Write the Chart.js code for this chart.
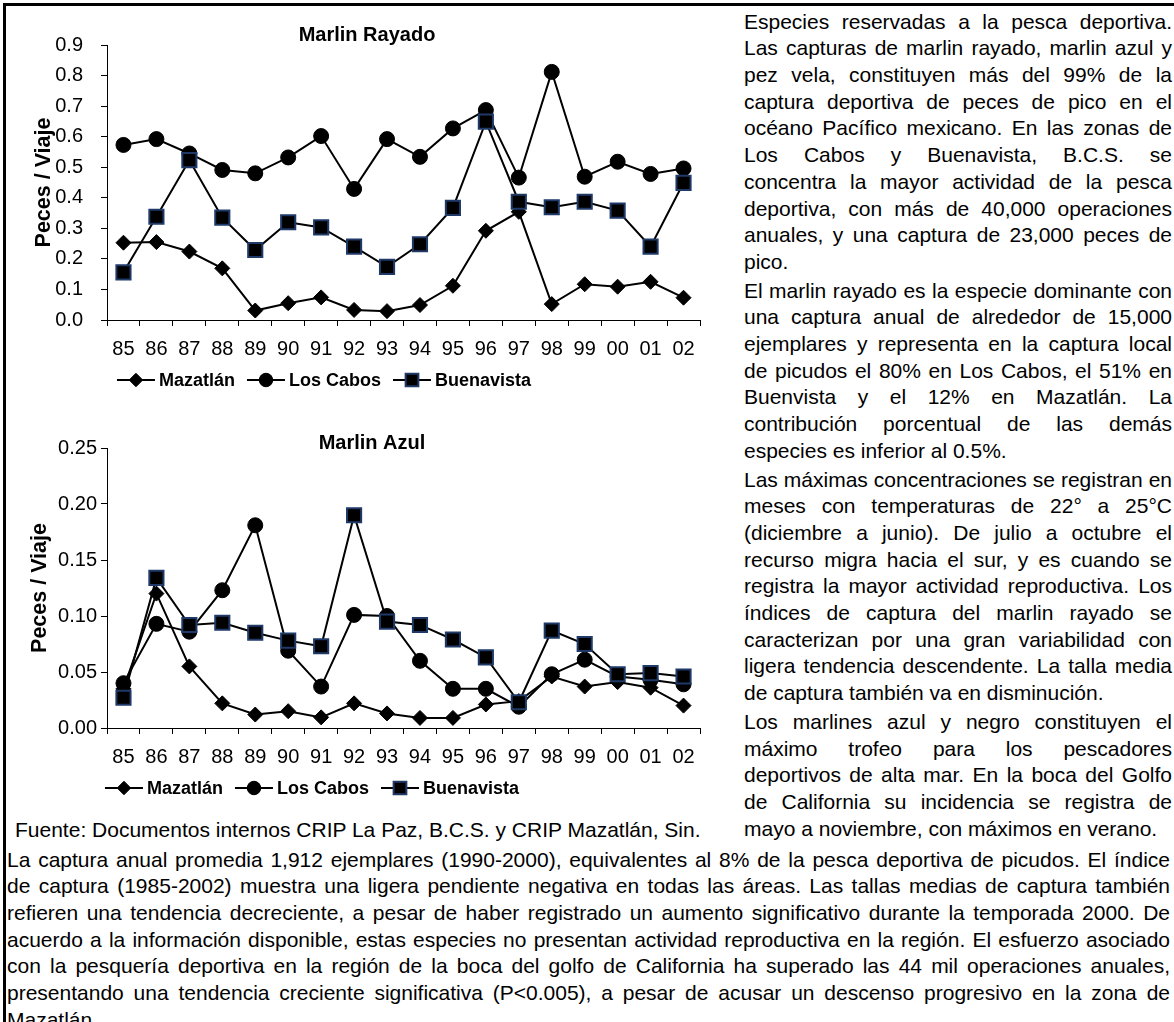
<!DOCTYPE html>
<html lang="es">
<head>
<meta charset="utf-8">
<title>Marlin Rayado / Marlin Azul</title>
<script src="https://cdn.jsdelivr.net/npm/chart.js@4.4.0/dist/chart.umd.min.js"></script>
<style>
  html, body { margin: 0; padding: 0; background: #fff; }
  body {
    width: 1174px; height: 1022px; position: relative; overflow: hidden;
    font-family: "Liberation Sans", Arial, sans-serif; color: #000;
  }
  .rule-top { position: absolute; left: 3px; top: 3px; right: 0; height: 3px; background: #000; }
  .rule-left { position: absolute; left: 3px; top: 3px; bottom: 0; width: 3px; background: #000; }
  canvas { position: absolute; left: 0; }
  #rayado { top: 0; }
  #azul { top: 400px; }
  .col { position: absolute; left: 744px; top: 8.6px; width: 428px; font-size: 21px; line-height: 26.7px; }
  .col .p { margin-bottom: 2px; }
  .bottom { position: absolute; left: 7px; top: 846.6px; width: 1163px; font-size: 21px; line-height: 26.7px; }
  .src { position: absolute; left: 15px; top: 816.6px; font-size: 21px; line-height: 26.7px; white-space: nowrap; }
  .j, .e { white-space: nowrap; }
</style>
</head>
<body>
<div class="rule-top"></div>
<div class="rule-left"></div>

<canvas id="rayado" width="712" height="400"></canvas>
<canvas id="azul" width="712" height="408"></canvas>

<div class="col">
  <div class="p">
    <div class="j">Especies reservadas a la pesca deportiva.</div>
    <div class="j">Las capturas de marlin rayado, marlin azul y</div>
    <div class="j">pez vela, constituyen más del 99% de la</div>
    <div class="j">captura deportiva de peces de pico en el</div>
    <div class="j">océano Pacífico mexicano. En las zonas de</div>
    <div class="j">Los Cabos y Buenavista, B.C.S. se</div>
    <div class="j">concentra la mayor actividad de la pesca</div>
    <div class="j">deportiva, con más de 40,000 operaciones</div>
    <div class="j">anuales, y una captura de 23,000 peces de</div>
    <div class="e">pico.</div>
  </div>
  <div class="p">
    <div class="j">El marlin rayado es la especie dominante con</div>
    <div class="j">una captura anual de alrededor de 15,000</div>
    <div class="j">ejemplares y representa en la captura local</div>
    <div class="j">de picudos el 80% en Los Cabos, el 51% en</div>
    <div class="j">Buenvista y el 12% en Mazatlán. La</div>
    <div class="j">contribución porcentual de las demás</div>
    <div class="e">especies es inferior al 0.5%.</div>
  </div>
  <div class="p">
    <div class="j">Las máximas concentraciones se registran en</div>
    <div class="j">meses con temperaturas de 22° a 25°C</div>
    <div class="j">(diciembre a junio). De julio a octubre el</div>
    <div class="j">recurso migra hacia el sur, y es cuando se</div>
    <div class="j">registra la mayor actividad reproductiva. Los</div>
    <div class="j">índices de captura del marlin rayado se</div>
    <div class="j">caracterizan por una gran variabilidad con</div>
    <div class="j">ligera tendencia descendente. La talla media</div>
    <div class="e">de captura también va en disminución.</div>
  </div>
  <div class="p">
    <div class="j">Los marlines azul y negro constituyen el</div>
    <div class="j">máximo trofeo para los pescadores</div>
    <div class="j">deportivos de alta mar. En la boca del Golfo</div>
    <div class="j">de California su incidencia se registra de</div>
    <div class="e">mayo a noviembre, con máximos en verano.</div>
  </div>
</div>

<div class="src">Fuente: Documentos internos CRIP La Paz, B.C.S. y CRIP Mazatlán, Sin.</div>

<div class="bottom">
  <div class="j">La captura anual promedia 1,912 ejemplares (1990-2000), equivalentes al 8% de la pesca deportiva de picudos. El índice</div>
  <div class="j">de captura (1985-2002) muestra una ligera pendiente negativa en todas las áreas. Las tallas medias de captura también</div>
  <div class="j">refieren una tendencia decreciente, a pesar de haber registrado un aumento significativo durante la temporada 2000. De</div>
  <div class="j">acuerdo a la información disponible, estas especies no presentan actividad reproductiva en la región. El esfuerzo asociado</div>
  <div class="j">con la pesquería deportiva en la región de la boca del golfo de California ha superado las 44 mil operaciones anuales,</div>
  <div class="j">presentando una tendencia creciente significativa (P&lt;0.005), a pesar de acusar un descenso progresivo en la zona de</div>
  <div class="e">Mazatlán</div>
</div>

<script>
const years = ["85", "86", "87", "88", "89", "90", "91", "92", "93", "94", "95", "96", "97", "98", "99", "00", "01", "02"];
const seriesNames = ["Mazatlán", "Los Cabos", "Buenavista"];

// Marlin Rayado, peces / viaje
const rayadoMazatlan = [0.253, 0.255, 0.224, 0.169, 0.031, 0.055, 0.074, 0.033, 0.029, 0.049, 0.112, 0.292, 0.354, 0.052, 0.117, 0.109, 0.125, 0.073];
const rayadoLosCabos = [0.573, 0.592, 0.545, 0.491, 0.480, 0.532, 0.602, 0.429, 0.592, 0.534, 0.627, 0.687, 0.466, 0.812, 0.469, 0.518, 0.478, 0.496];
const rayadoBuenavista = [0.156, 0.338, 0.523, 0.335, 0.229, 0.320, 0.303, 0.240, 0.174, 0.248, 0.367, 0.649, 0.387, 0.369, 0.387, 0.358, 0.240, 0.449];

// Marlin Azul, peces / viaje
const azulMazatlan = [0.035, 0.120, 0.055, 0.022, 0.012, 0.015, 0.0095, 0.022, 0.013, 0.009, 0.009, 0.021, 0.024, 0.046, 0.037, 0.041, 0.036, 0.020];
const azulLosCabos = [0.040, 0.093, 0.086, 0.123, 0.181, 0.069, 0.037, 0.101, 0.100, 0.060, 0.035, 0.035, 0.019, 0.048, 0.061, 0.046, 0.043, 0.039];
const azulBuenavista = [0.027, 0.134, 0.092, 0.094, 0.085, 0.078, 0.073, 0.190, 0.095, 0.092, 0.079, 0.063, 0.023, 0.087, 0.075, 0.048, 0.049, 0.046];

const rayadoAxis = { max: 0.9, step: 0.1, decimals: 1 };
const azulAxis = { max: 0.25, step: 0.05, decimals: 2 };

const FONT = "'Liberation Sans', Arial, sans-serif";
Chart.defaults.font.family = FONT;
Chart.defaults.color = "#000";

const markerStyles = [
  { pointStyle: "rectRot", pointRadius: 7.5, pointBorderColor: "#000", pointBorderWidth: 1, order: 2 },
  { pointStyle: "circle", pointRadius: 7.5, pointBorderColor: "#000", pointBorderWidth: 1, order: 1 },
  { pointStyle: "rect", pointRadius: 10, pointBorderColor: "#1f3a68", pointBorderWidth: 2, order: 0 }
];

function makeDatasets(values) {
  return values.map((v, i) => Object.assign({
    label: seriesNames[i],
    data: v,
    borderColor: "#000",
    borderWidth: 2,
    backgroundColor: "#000",
    pointBackgroundColor: "#000",
    tension: 0,
    fill: false
  }, markerStyles[i]));
}

// title above the plot and a line+marker legend below the tick labels
const panelDecor = {
  id: "panelDecor",
  afterDraw(chart, args, opts) {
    const ctx = chart.ctx;
    const area = chart.chartArea;
    ctx.save();
    ctx.fillStyle = "#000";
    ctx.textBaseline = "middle";
    ctx.textAlign = "center";
    ctx.font = "bold 20px " + FONT;
    ctx.fillText(opts.title, opts.titleX, area.top - opts.titleGap);

    ctx.font = "bold 18px " + FONT;
    const y = area.bottom + opts.legendGap;
    const lineLen = 38, gap = 12;
    const items = chart.data.datasets.map((ds) => ({ ds, w: lineLen + 4 + ctx.measureText(ds.label).width }));
    const total = items.reduce((s, it) => s + it.w, 0) + gap * (items.length - 1);
    let x = opts.legendX - total / 2;
    items.forEach((it) => {
      const ds = it.ds;
      ctx.strokeStyle = "#000";
      ctx.lineWidth = 2;
      ctx.beginPath();
      ctx.moveTo(x, y);
      ctx.lineTo(x + lineLen, y);
      ctx.stroke();
      ctx.fillStyle = "#000";
      ctx.strokeStyle = ds.pointBorderColor;
      ctx.lineWidth = ds.pointBorderWidth;
      Chart.helpers.drawPoint(ctx, {
        pointStyle: ds.pointStyle,
        radius: ds.pointRadius * 0.9,
        borderWidth: ds.pointBorderWidth,
        rotation: 0
      }, x + lineLen / 2, y);
      ctx.fillStyle = "#000";
      ctx.textAlign = "left";
      ctx.fillText(ds.label, x + lineLen + 4, y + 1);
      x += it.w + gap;
    });
    ctx.restore();
  }
};

function makeOptions(axis, decor) {
  return {
    responsive: false,
    animation: false,
    events: [],
    layout: { padding: { top: decor.padTop, right: 5, bottom: 0, left: 0 } },
    plugins: {
      legend: { display: false },
      tooltip: { enabled: false },
      title: { display: false },
      panelDecor: decor
    },
    scales: {
      x: {
        type: "category",
        offset: true,
        grid: { offset: true, drawOnChartArea: false, drawTicks: true, tickLength: 6, color: "#000", lineWidth: 1 },
        border: { display: true, color: "#000", width: 1 },
        ticks: { color: "#000", font: { size: 20 }, padding: 11, maxRotation: 0, autoSkip: false },
        afterFit(scale) { scale.height = 80; }
      },
      y: {
        min: 0,
        max: axis.max,
        grid: { drawOnChartArea: false, drawTicks: true, tickLength: 6, color: "#000", lineWidth: 1 },
        border: { display: true, color: "#000", width: 1 },
        ticks: {
          stepSize: axis.step,
          color: "#000",
          font: { size: 20 },
          padding: decor.tickPad,
          callback: (v) => Number(v).toFixed(axis.decimals)
        },
        title: {
          display: true,
          text: "Peces / Viaje",
          color: "#000",
          font: { size: 21.5, weight: "bold" },
          padding: { top: decor.titlePad, bottom: 0 }
        },
        afterFit(scale) { scale.width = 107; }
      }
    }
  };
}

function justifyLines() {
  document.querySelectorAll(".j").forEach((el) => {
    const W = el.parentElement.classList.contains("p") ? el.parentElement.parentElement.clientWidth : el.parentElement.clientWidth;
    const text = el.textContent.replace(/\s+/g, " ").trim();
    el.textContent = "";
    const span = document.createElement("span");
    span.textContent = text;
    el.appendChild(span);
    const natural = span.getBoundingClientRect().width;
    const spaces = (text.match(/ /g) || []).length;
    if (spaces > 0) span.style.wordSpacing = ((W - natural) / spaces) + "px";
  });
}

function build() {
  new Chart(document.getElementById("rayado"), {
    type: "line",
    data: { labels: years, datasets: makeDatasets([rayadoMazatlan, rayadoLosCabos, rayadoBuenavista]) },
    options: makeOptions(rayadoAxis, {
      padTop: 45, tickPad: 18, titlePad: 31,
      title: "Marlin Rayado", titleX: 367, titleGap: 10, legendX: 324, legendGap: 60
    }),
    plugins: [panelDecor]
  });

  new Chart(document.getElementById("azul"), {
    type: "line",
    data: { labels: years, datasets: makeDatasets([azulMazatlan, azulLosCabos, azulBuenavista]) },
    options: makeOptions(azulAxis, {
      padTop: 48, tickPad: 4, titlePad: 27,
      title: "Marlin Azul", titleX: 372, titleGap: 5, legendX: 312, legendGap: 60
    }),
    plugins: [panelDecor]
  });

  justifyLines();
}

document.addEventListener("DOMContentLoaded", build);
</script>
</body>
</html>
